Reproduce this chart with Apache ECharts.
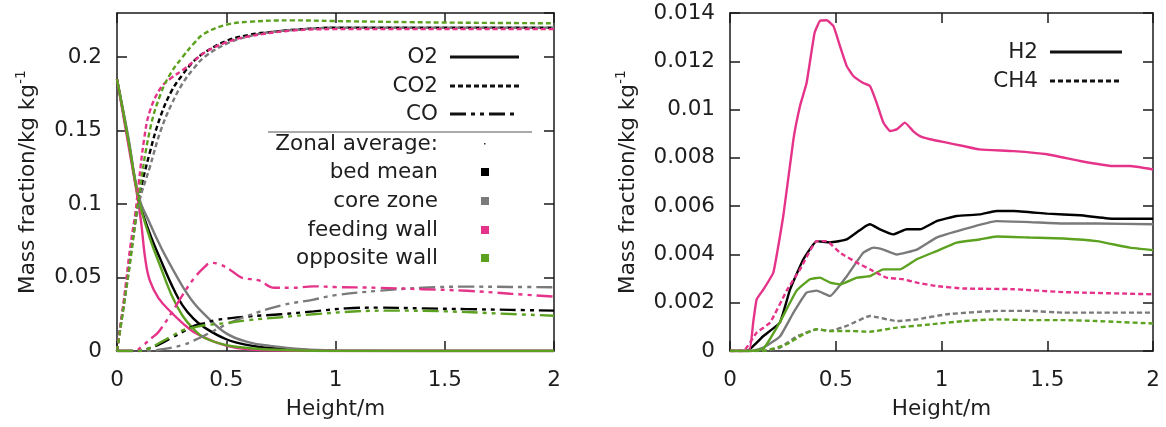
<!DOCTYPE html>
<html>
<head>
<meta charset="utf-8">
<script src="https://cdn.jsdelivr.net/npm/echarts@6/dist/echarts.min.js"></script>
<style>
html,body{margin:0;padding:0;background:#fff;}
#main{width:1166px;height:427px;}
</style>
</head>
<body>
<div id="main"></div>
<script>
// ---------- DATA ----------
const xTicks = [0, 0.5, 1, 1.5, 2];
const leftYTicks = [0, 0.05, 0.1, 0.15, 0.2];
const rightYTicks = [0, 0.002, 0.004, 0.006, 0.008, 0.01, 0.012, 0.014];

const zones = ['bed mean', 'core zone', 'feeding wall', 'opposite wall'];
const species = ['O2', 'CO2', 'CO'];
const speciesRight = ['H2', 'CH4'];

// O2 (solid)
const o2_bed = [[0,0.185],[0.05,0.145],[0.1,0.103],[0.15,0.080],[0.2,0.062],[0.25,0.045],[0.3,0.031],[0.35,0.022],[0.4,0.016],[0.5,0.008],[0.6,0.004],[0.7,0.002],[0.85,0.0007],[1.0,0.0002],[1.5,0],[2,0]];
const o2_core = [[0,0.185],[0.05,0.147],[0.1,0.105],[0.15,0.087],[0.2,0.071],[0.25,0.057],[0.3,0.044],[0.35,0.033],[0.4,0.025],[0.5,0.012],[0.6,0.006],[0.7,0.0035],[0.85,0.0012],[1.0,0.0004],[1.5,0],[2,0]];
const o2_feed = [[0,0.185],[0.05,0.142],[0.09,0.108],[0.11,0.088],[0.13,0.062],[0.15,0.048],[0.19,0.036],[0.25,0.026],[0.3,0.019],[0.35,0.013],[0.45,0.006],[0.55,0.002],[0.7,0.0004],[1,0],[2,0]];
const o2_opp = [[0,0.185],[0.05,0.145],[0.1,0.103],[0.15,0.077],[0.2,0.057],[0.25,0.038],[0.3,0.024],[0.35,0.015],[0.4,0.009],[0.5,0.004],[0.6,0.002],[0.7,0.001],[0.85,0.0003],[1,0],[2,0]];

// CO2 (dotted)
const co2_bed = [[0,0],[0.05,0.052],[0.1,0.103],[0.15,0.135],[0.2,0.16],[0.25,0.177],[0.3,0.188],[0.35,0.197],[0.4,0.203],[0.5,0.211],[0.6,0.215],[0.7,0.217],[0.85,0.219],[1,0.22],[1.5,0.22],[2,0.22]];
const co2_core = [[0,0],[0.05,0.05],[0.1,0.1],[0.15,0.125],[0.2,0.15],[0.25,0.168],[0.3,0.182],[0.35,0.192],[0.4,0.2],[0.5,0.209],[0.6,0.214],[0.7,0.217],[0.85,0.219],[1,0.22],[2,0.22]];
const co2_feed = [[0,0],[0.03,0.033],[0.06,0.07],[0.085,0.095],[0.1,0.115],[0.125,0.145],[0.15,0.163],[0.2,0.179],[0.25,0.186],[0.3,0.191],[0.35,0.197],[0.4,0.203],[0.5,0.21],[0.6,0.214],[0.8,0.218],[1,0.219],[2,0.219]];
const co2_opp = [[0,0],[0.05,0.05],[0.1,0.105],[0.15,0.15],[0.2,0.175],[0.25,0.19],[0.3,0.2],[0.35,0.209],[0.4,0.216],[0.5,0.222],[0.6,0.224],[0.8,0.225],[1,0.2245],[1.5,0.2235],[2,0.223]];

// CO (dash-dot-dot)
const co_bed = [[0,0],[0.1,0],[0.15,0.002],[0.2,0.005],[0.25,0.009],[0.3,0.013],[0.35,0.017],[0.4,0.019],[0.45,0.021],[0.5,0.022],[0.6,0.0235],[0.75,0.025],[0.9,0.027],[1.05,0.029],[1.2,0.0295],[1.4,0.029],[1.6,0.0285],[1.8,0.028],[2,0.0275]];
const co_core = [[0,0],[0.15,0],[0.2,0.001],[0.3,0.004],[0.35,0.007],[0.42,0.012],[0.5,0.018],[0.6,0.024],[0.75,0.031],[0.9,0.035],[1.0,0.038],[1.2,0.041],[1.4,0.043],[1.6,0.0438],[1.8,0.0436],[2,0.0434]];
const co_feed = [[0,0],[0.08,0],[0.12,0.004],[0.16,0.009],[0.19,0.013],[0.25,0.026],[0.3,0.038],[0.35,0.049],[0.4,0.057],[0.43,0.06],[0.47,0.059],[0.52,0.055],[0.57,0.05],[0.65,0.048],[0.72,0.043],[0.8,0.043],[0.9,0.044],[1.0,0.0435],[1.2,0.043],[1.4,0.042],[1.6,0.041],[1.8,0.039],[2,0.037]];
const co_opp = [[0,0],[0.1,0],[0.15,0.002],[0.2,0.006],[0.25,0.01],[0.3,0.014],[0.35,0.016],[0.4,0.0175],[0.5,0.019],[0.6,0.021],[0.75,0.023],[0.9,0.025],[1.1,0.027],[1.25,0.0275],[1.5,0.027],[1.75,0.0255],[2,0.024]];

// H2 (solid)
const h2_bed = [[0,0],[0.08,0],[0.158,0.00062],[0.236,0.00118],[0.284,0.00255],[0.347,0.0038],[0.41,0.00455],[0.473,0.0045],[0.552,0.00462],[0.63,0.00511],[0.662,0.00525],[0.709,0.00504],[0.772,0.00483],[0.835,0.00504],[0.898,0.00504],[0.977,0.00538],[1.072,0.00559],[1.18,0.00566],[1.26,0.0058],[1.34,0.0058],[1.5,0.00569],[1.655,0.00562],[1.81,0.00548],[2,0.00548]];
const h2_core = [[0,0],[0.1,0],[0.158,0.00014],[0.236,0.0006],[0.3,0.00159],[0.362,0.00242],[0.41,0.0025],[0.473,0.00228],[0.552,0.0031],[0.63,0.00407],[0.678,0.00428],[0.725,0.0042],[0.788,0.004],[0.883,0.0042],[0.977,0.0047],[1.103,0.00504],[1.26,0.00538],[1.418,0.00534],[1.576,0.00528],[1.734,0.00528],[2,0.00525]];
const h2_feed = [[0,0],[0.09,0],[0.11,0.0012],[0.126,0.00214],[0.158,0.00255],[0.205,0.00325],[0.252,0.0056],[0.3,0.00877],[0.331,0.01015],[0.362,0.0111],[0.4,0.01318],[0.425,0.01367],[0.457,0.0137],[0.489,0.01346],[0.52,0.01263],[0.552,0.0118],[0.583,0.01139],[0.63,0.0111],[0.662,0.01097],[0.693,0.01029],[0.725,0.00946],[0.757,0.00911],[0.788,0.00918],[0.827,0.00946],[0.867,0.0091],[0.898,0.0089],[0.946,0.00877],[1.024,0.00863],[1.103,0.00849],[1.18,0.00835],[1.34,0.00828],[1.5,0.00815],[1.655,0.00787],[1.81,0.00766],[1.89,0.00766],[2,0.00752]];
const h2_opp = [[0,0],[0.1,0],[0.158,0.0001],[0.236,0.0012],[0.315,0.0025],[0.378,0.00297],[0.425,0.00304],[0.473,0.00283],[0.52,0.00276],[0.6,0.00304],[0.662,0.0031],[0.725,0.00338],[0.804,0.00338],[0.883,0.0038],[0.977,0.00414],[1.072,0.00449],[1.18,0.00462],[1.26,0.00474],[1.418,0.0047],[1.576,0.00466],[1.734,0.00455],[1.89,0.00428],[2,0.00418]];

// CH4 (dotted) — bed mean not visible in the figure
const ch4_core = [[0,0],[0.158,0],[0.236,0.00014],[0.315,0.0006],[0.41,0.0009],[0.473,0.00083],[0.552,0.00104],[0.662,0.00145],[0.788,0.00124],[0.883,0.00131],[1.024,0.00152],[1.26,0.00166],[1.418,0.00166],[1.576,0.00159],[1.734,0.00159],[2,0.00159]];
const ch4_feed = [[0,0],[0.063,0],[0.126,0.00076],[0.19,0.00118],[0.268,0.0025],[0.331,0.00338],[0.41,0.00455],[0.457,0.00455],[0.52,0.00407],[0.6,0.00366],[0.662,0.00338],[0.74,0.00304],[0.82,0.00297],[0.883,0.00283],[0.977,0.00269],[1.103,0.00259],[1.34,0.00256],[1.576,0.00244],[2,0.00235]];
const ch4_opp = [[0,0],[0.158,0],[0.268,0.00028],[0.347,0.00069],[0.41,0.0009],[0.473,0.00083],[0.552,0.00083],[0.662,0.0008],[0.788,0.00097],[0.946,0.0011],[1.103,0.00124],[1.26,0.00131],[1.418,0.00128],[1.576,0.00128],[1.734,0.00124],[2,0.00114]];

// ---------- STYLE ----------
const FONT = 'DejaVu Sans';
const FS = 21.5;
const TXT = '#1e1e1e';
const zoneColors = ['#000000', '#7a7a7a', '#e6338a', '#5ca220'];
const dashStyles = { solid: 'solid', dotted: [5, 3], dashdot: [16, 5, 4, 5, 4, 5] };

const chart = echarts.init(document.getElementById('main'), null, { renderer: 'canvas' });

const grids = [
  { left: 117, right: 612, top: 13, bottom: 76 },
  { left: 730, right: 13, top: 13, bottom: 76 }
];

function xAx(gi, pos) {
  const main = pos === 'bottom';
  return {
    type: 'value', gridIndex: gi, position: pos, min: 0, max: 2, interval: 0.5,
    axisLine: { show: true, onZero: false, lineStyle: { color: '#1a1a1a', width: 1.5 } },
    axisTick: { show: true, inside: true, length: 10, lineStyle: { color: '#1a1a1a', width: 1.5 } },
    axisLabel: { show: main, margin: 18, color: TXT, fontFamily: FONT, fontSize: FS,
      formatter: v => xTicks.indexOf(v) >= 0 ? String(v) : '' },
    splitLine: { show: false },
    name: main ? 'Height/m' : '', nameLocation: 'middle', nameGap: 47,
    nameTextStyle: { color: TXT, fontFamily: FONT, fontSize: FS }
  };
}
function yAx(gi, pos, max, interval, ticks) {
  const main = pos === 'left';
  return {
    type: 'value', gridIndex: gi, position: pos, min: 0, max: max, interval: interval,
    axisLine: { show: true, onZero: false, lineStyle: { color: '#1a1a1a', width: 1.5 } },
    axisTick: { show: true, inside: true, length: 10, lineStyle: { color: '#1a1a1a', width: 1.5 } },
    axisLabel: { show: main, margin: 15, color: TXT, fontFamily: FONT, fontSize: FS, showMaxLabel: gi === 1,
      formatter: v => { const t = ticks.find(k => Math.abs(k - v) < 1e-9); return t === undefined ? '' : String(t); } },
    splitLine: { show: false },
    name: main ? '{a|Mass fraction/kg kg}{s|-1}' : '', nameLocation: 'middle', nameGap: gi === 0 ? 75 : 88, nameRotate: 90,
    nameTextStyle: { color: TXT, fontFamily: FONT, fontSize: FS,
      rich: { a: { fontFamily: FONT, fontSize: FS, color: TXT }, s: { fontFamily: FONT, fontSize: 14, color: TXT, padding: [0, 0, 14, 0] } } }
  };
}

const series = [];
function addSeries(name, data, colorIdx, dash, xi, yi, smooth) {
  if (!data) return;
  series.push({
    name: name, type: 'line', data: data, xAxisIndex: xi, yAxisIndex: yi,
    showSymbol: false, smooth: smooth, animation: false,
    lineStyle: { color: zoneColors[colorIdx], width: 2.4, type: dashStyles[dash] },
    z: 2
  });
}
const leftSets = [
  [o2_bed, o2_core, o2_feed, o2_opp, 'solid', 'O2'],
  [co2_bed, co2_core, co2_feed, co2_opp, 'dotted', 'CO2'],
  [co_bed, co_core, co_feed, co_opp, 'dashdot', 'CO']
];
leftSets.forEach(s => {
  for (let i = 0; i < 4; i++) addSeries(s[5] + ' ' + zones[i], s[i], i, s[4], 0, 0, 0.4);
});
const rightSets = [
  [h2_bed, h2_core, h2_feed, h2_opp, 'solid', 'H2'],
  [null, ch4_core, ch4_feed, ch4_opp, 'dotted', 'CH4']
];
rightSets.forEach(s => {
  for (let i = 0; i < 4; i++) addSeries(s[5] + ' ' + zones[i], s[i], i, s[4], 2, 2, 0.12);
});

// ---------- LEGENDS (graphic) ----------
const graphic = [];
const txt = (x, y, t) => ({ type: 'text', x: x, y: y, style: { text: t, fontFamily: FONT, fontSize: FS, fill: TXT, align: 'right', verticalAlign: 'middle' } });
const seg = (x1, x2, y, dash, color) => ({ type: 'line', shape: { x1: x1, y1: y, x2: x2, y2: y }, style: { stroke: color || '#111', lineWidth: 3, lineDash: dash === 'solid' ? null : dashStyles[dash] } });

// left legend
const legL = [['solid', 57], ['dotted', 86], ['dashdot', 114]];
legL.forEach((r, i) => { graphic.push(txt(438, r[1], species[i])); graphic.push(seg(450, 519, r[1], r[0])); });
graphic.push({ type: 'line', shape: { x1: 268, y1: 132, x2: 532, y2: 132 }, style: { stroke: '#555', lineWidth: 1 } });
graphic.push(txt(438, 144, 'Zonal average:'));
graphic.push({ type: 'rect', shape: { x: 484, y: 143, width: 1.5, height: 1.5 }, style: { fill: '#333' } });
[172, 201, 230, 258].forEach((y, i) => {
  graphic.push(txt(438, y, zones[i]));
  graphic.push({ type: 'rect', shape: { x: 481, y: y - 4, width: 8, height: 8 }, style: { fill: zoneColors[i] } });
});
// right legend
[['solid', 52], ['dotted', 81]].forEach((r, i) => {
  graphic.push(txt(1038, r[1], speciesRight[i]));
  graphic.push(seg(1050, 1122, r[1], r[0]));
});

chart.setOption({
  animation: false,
  backgroundColor: '#ffffff',
  grid: grids,
  xAxis: [xAx(0, 'bottom'), xAx(0, 'top'), xAx(1, 'bottom'), xAx(1, 'top')],
  yAxis: [yAx(0, 'left', 0.23, 0.05, leftYTicks), yAx(0, 'right', 0.23, 0.05, leftYTicks),
          yAx(1, 'left', 0.014, 0.002, rightYTicks), yAx(1, 'right', 0.014, 0.002, rightYTicks)],
  series: series,
  graphic: graphic
});
</script>
</body>
</html>
